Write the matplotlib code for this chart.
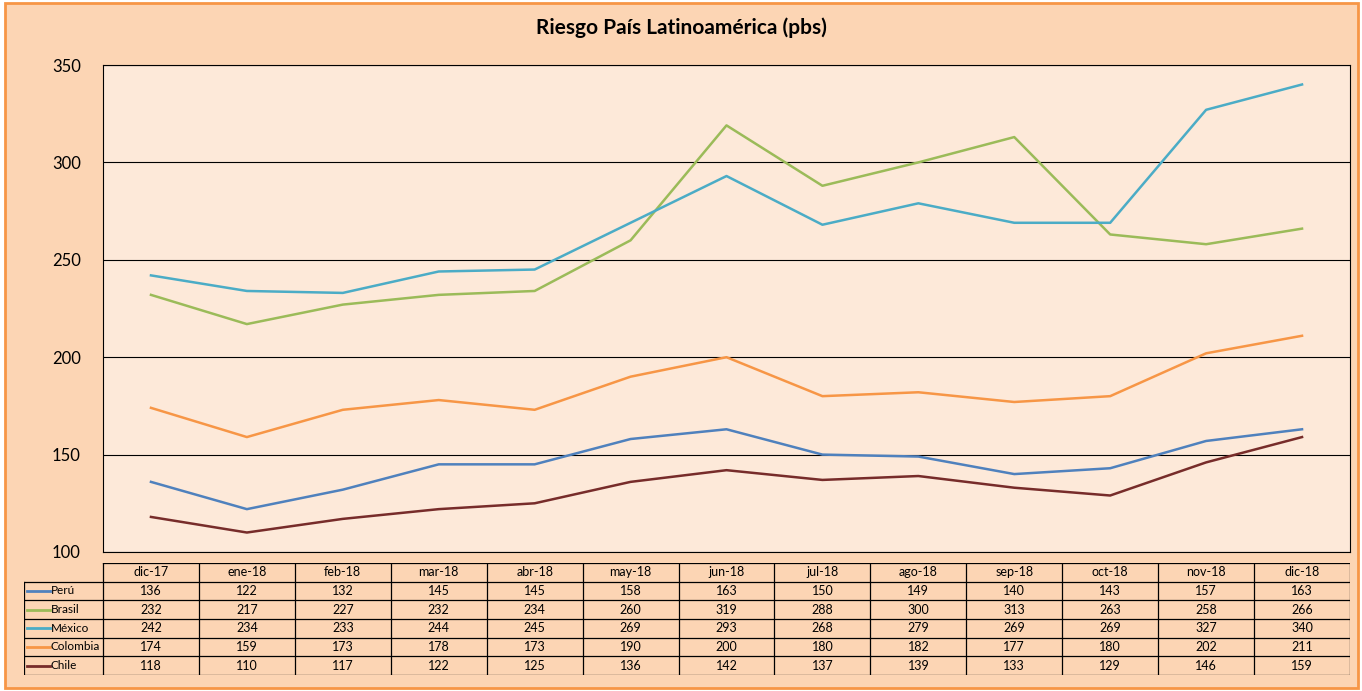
import matplotlib.pyplot as plt
from matplotlib.patches import Rectangle

plt.rcParams['font.family'] = ['Lato', 'DejaVu Sans']

# data
months = ["dic-17", "ene-18", "feb-18", "mar-18", "abr-18", "may-18", "jun-18",
          "jul-18", "ago-18", "sep-18", "oct-18", "nov-18", "dic-18"]
peru = [136, 122, 132, 145, 145, 158, 163, 150, 149, 140, 143, 157, 163]
brasil = [232, 217, 227, 232, 234, 260, 319, 288, 300, 313, 263, 258, 266]
mexico = [242, 234, 233, 244, 245, 269, 293, 268, 279, 269, 269, 327, 340]
colombia = [174, 159, 173, 178, 173, 190, 200, 180, 182, 177, 180, 202, 211]
chile = [118, 110, 117, 122, 125, 136, 142, 137, 139, 133, 129, 146, 159]

series = [("Perú", peru, "#4F81BD"),
          ("Brasil", brasil, "#9BBB59"),
          ("México", mexico, "#4BACC6"),
          ("Colombia", colombia, "#F79646"),
          ("Chile", chile, "#772C2A")]

W, H = 1362, 691
fig = plt.figure(figsize=(W / 100, H / 100), dpi=100, facecolor="white")

# outer frame
fig.patches.append(Rectangle((5 / W, 3 / H), 1353 / W, 685 / H, transform=fig.transFigure,
                             facecolor="#FCD5B4", edgecolor="#F79646", linewidth=2, zorder=-10))

fig.text(0.5, 1 - 28 / H, "Riesgo País Latinoamérica (pbs)", ha="center", va="center",
         fontsize=15, fontweight="bold")

# main plot area
x0, x1 = 103, 1350
ax = fig.add_axes([x0 / W, (H - 552) / H, (x1 - x0) / W, (552 - 65) / H])
ax.set_facecolor("#FDE9D9")
x = list(range(len(months)))
for name, vals, col in series:
    ax.plot(x, vals, color=col, linewidth=1.8)
ax.set_xlim(-0.5, len(months) - 0.5)
ax.set_ylim(100, 350)
ax.set_yticks(range(100, 351, 50))
ax.set_xticks([])
ax.grid(axis="y", color="black", linewidth=0.8)
ax.set_axisbelow(True)
ax.tick_params(axis="y", length=0, labelsize=12, pad=16)
for s in ax.spines.values():
    s.set_color("black")
    s.set_linewidth(0.8)

# data table
colw = (x1 - x0) / len(months)
labw = (x0 - 24) / colw
tab = fig.add_axes([24 / W, (H - 675) / H, (x1 - 24) / W, (675 - 563) / H])
tab.set_xlim(-0.5 - labw, len(months) - 0.5)
tab.set_ylim(6, 0)
tab.axis("off")
tab.patch.set_alpha(0)
lk = dict(color="black", linewidth=0.9)
# header row
for i, m in enumerate(months):
    tab.text(i, 0.5, m, ha="center", va="center", fontsize=9)
tab.plot([-0.5, len(months) - 0.5], [0, 0], **lk)
for i in range(len(months) + 1):
    tab.plot([i - 0.5, i - 0.5], [0, 6], **lk)
left = -0.5 - labw
for r in range(1, 7):
    tab.plot([left, len(months) - 0.5], [r, r], **lk)
tab.plot([left, left], [1, 6], **lk)
for r, (name, vals, col) in enumerate(series, start=1):
    tab.plot([left + 0.03, left + 0.27], [r + 0.5, r + 0.5], color=col, linewidth=2)
    tab.text(left + 0.28, r + 0.5, name, ha="left", va="center", fontsize=8.5)
    for i, v in enumerate(vals):
        tab.text(i, r + 0.5, str(v), ha="center", va="center", fontsize=9)

fig.savefig("out.png", dpi=100, facecolor=fig.get_facecolor())
